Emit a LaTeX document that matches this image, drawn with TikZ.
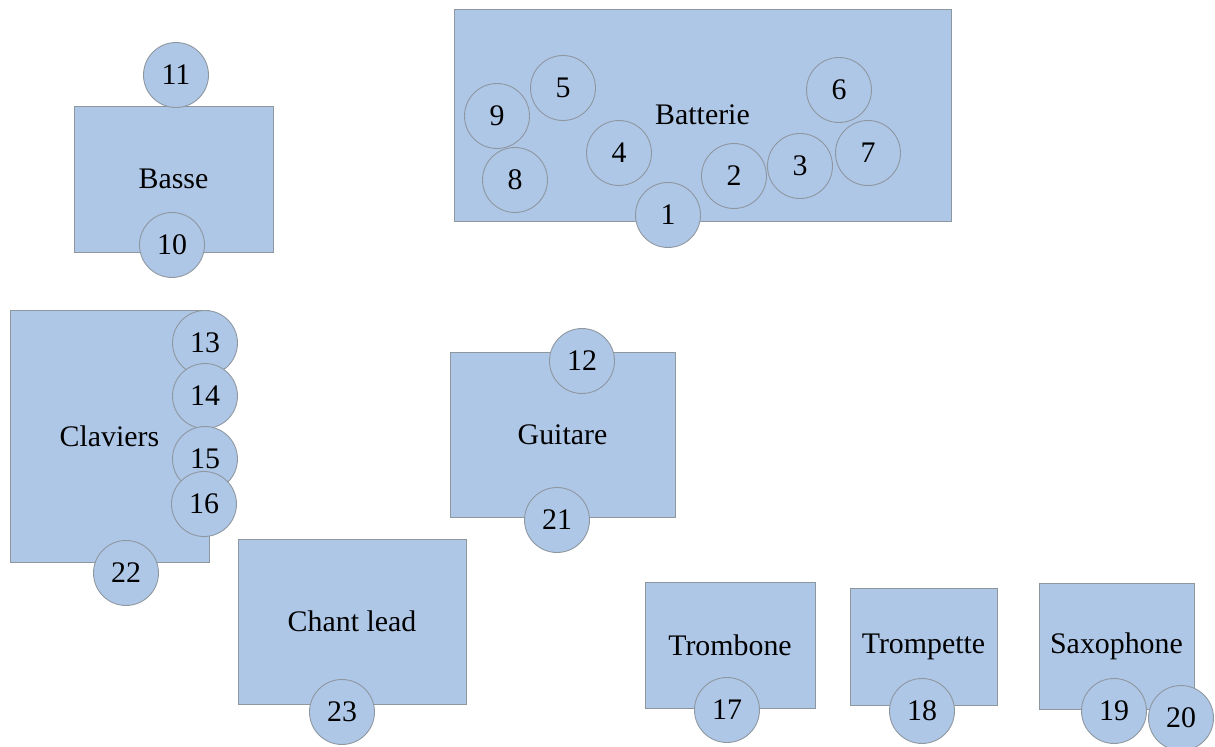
\documentclass[tikz,border=0pt]{standalone}
\usepackage{fontspec}
\setmainfont{Liberation Serif}
\usepackage{tikz}
\usepackage{xcolor}
\definecolor{ScenePlan}{HTML}{AEC7E7}
\definecolor{SceneTrait}{HTML}{8E969E}

\begin{document}
\begin{tikzpicture}[x=0.02cm, y=-0.02cm,
    zone/.style={draw=SceneTrait, fill=ScenePlan, line width=0.5pt, inner sep=0pt, outer sep=0pt, font=\fontsize{17}{20}\selectfont},
    poste/.style={circle, draw=SceneTrait, fill=ScenePlan, line width=0.5pt, minimum size=1.3cm, inner sep=0pt, font=\fontsize{17}{20}\selectfont}]
    \useasboundingbox (0,0) rectangle (1215,747);
    % Zones
    \node[zone, minimum width=9.94cm, minimum height=4.24cm] (batterie) at (702.5,115) {Batterie};
    \node[zone, minimum width=3.98cm, minimum height=2.92cm] (basse) at (173.5,179) {Basse};
    \node[zone, minimum width=3.98cm, minimum height=5.04cm] (claviers) at (109.5,436) {Claviers};
    \node[zone, minimum width=4.5cm, minimum height=3.3cm] (guitare) at (562.5,434.5) {Guitare};
    \node[zone, minimum width=4.56cm, minimum height=3.3cm] (chant) at (352,621.5) {Chant lead};
    \node[zone, minimum width=3.4cm, minimum height=2.52cm] (trombone) at (730,645) {Trombone};
    \node[zone, minimum width=2.94cm, minimum height=2.34cm] (trompette) at (923.5,646.5) {Trompette};
    \node[zone, minimum width=3.1cm, minimum height=2.52cm] (saxophone) at (1116.5,646) {Saxophone};

    % Postes
    \foreach \n/\px/\py in {1/668/215, 2/734/176, 3/800/166, 4/619/153, 5/563/88,
        6/839/90, 7/868/153, 8/515/180, 9/497/116, 10/172/245, 11/176/75,
        12/582/361, 13/205/343, 14/205/396, 15/205/459, 16/204/504,
        17/727/710, 18/922/711, 19/1114/711, 20/1181/718, 21/557/520,
        22/126/573, 23/342/712} {
        \node[poste] (p\n) at (\px,\py) {\n};
    }
\end{tikzpicture}
\end{document}
